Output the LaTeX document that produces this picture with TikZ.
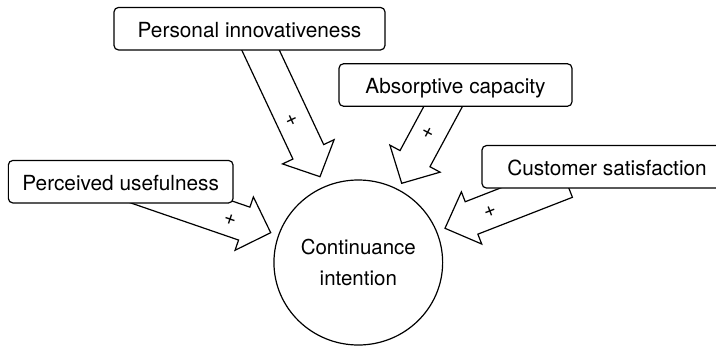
\documentclass[tikz,border=0pt]{standalone}
\usepackage{fontspec}
\setmainfont{TeX Gyre Heros}
\usetikzlibrary{calc,shapes.geometric}
\newcommand\blockarr[5]{% start, tip, shaft half width, head half width, head length
  \coordinate (tmpb) at ($(#2)!#5!(#1)$);
  \draw[blk] ($(#1)!#3!90:(#2)$) -- ($(tmpb)!#3!90:(#2)$) -- ($(tmpb)!#4!90:(#2)$) -- (#2)
    -- ($(tmpb)!#4!-90:(#2)$) -- ($(tmpb)!#3!-90:(#2)$) -- ($(#1)!#3!-90:(#2)$) -- cycle;}
\begin{document}
\begin{tikzpicture}[x=1pt,y=-1pt,
  box/.style={draw,line width=1.2pt,rounded corners=4.5pt,fill=white,inner sep=0pt,
    minimum height=42.5pt,text height=17.5pt,text depth=0pt,
    font=\fontsize{20.8}{24}\selectfont},
  blk/.style={draw,line width=1.2pt,fill=white,line join=miter},
  plusmark/.style={inner sep=0pt,font=\fontsize{21}{21}\selectfont},
  goal/.style={draw,line width=1.2pt,ellipse,inner sep=0pt,align=center,
    font=\fontsize{20.5}{31}\selectfont}]
\useasboundingbox (0,0) rectangle (716,346);
\clip (0,0) rectangle (716,346);

% targets and sources of the block arrows
\coordinate (s1) at (251.1,30);   \coordinate (t1) at (320,176.7);
\coordinate (s2) at (454.7,85);   \coordinate (t2) at (401.7,183.3);
\coordinate (s3) at (566.1,181.1); \coordinate (t3) at (445,228.3);
\coordinate (s4) at (128.9,183.9); \coordinate (t4) at (270.7,232.7);

\blockarr{s1}{t1}{17pt}{28.5pt}{27.5pt}
\blockarr{s2}{t2}{17pt}{28.5pt}{28pt}
\blockarr{s3}{t3}{17.4pt}{28pt}{28.5pt}
\blockarr{s4}{t4}{17.4pt}{28.2pt}{28pt}

\node[box,minimum width=271pt] (pi) at (249.5,28.7) {Personal innovativeness};
\node[box,minimum width=233pt] (ac) at (455.5,85) {Absorptive capacity};
\node[box,minimum width=250pt] (cs) at (607,166.8) {Customer satisfaction};
\node[box,minimum width=224.7pt] (pu) at (120.7,181.7) {Perceived usefulness};

\node[goal,minimum width=168.7pt,minimum height=165pt] (ci) at (358.3,262.5)
  {Continuance\\intention};

\node[plusmark,rotate=25] (p1) at (291.5,120.5) {+};
\node[plusmark,rotate=-28] (p2) at (427.7,132.7) {+};
\node[plusmark,rotate=21] (p3) at (490,211.7) {+};
\node[plusmark,rotate=-19] (p4) at (230,219.3) {+};
\end{tikzpicture}
\end{document}
